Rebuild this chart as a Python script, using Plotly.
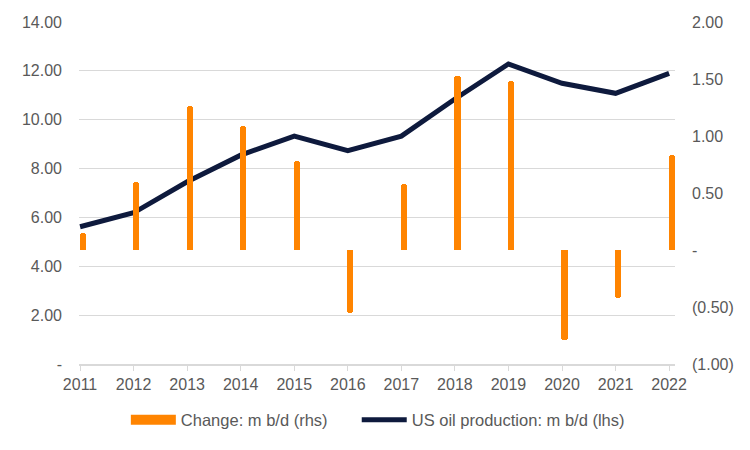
import plotly.graph_objects as go

years = [2011, 2012, 2013, 2014, 2015, 2016, 2017, 2018, 2019, 2020, 2021, 2022]
production = [5.62, 6.19, 7.46, 8.55, 9.33, 8.73, 9.33, 10.85, 12.28, 11.49, 11.08, 11.90]
change = [0.15, 0.60, 1.26, 1.09, 0.78, -0.55, 0.58, 1.53, 1.48, -0.79, -0.42, 0.83]

left_vals = [0, 2, 4, 6, 8, 10, 12, 14]
left_text = ["-", "2.00", "4.00", "6.00", "8.00", "10.00", "12.00", "14.00"]
right_vals = [-1.0, -0.5, 0.0, 0.5, 1.0, 1.5, 2.0]
right_text = ["(1.00)", "(0.50)", "-", "0.50", "1.00", "1.50", "2.00"]

ORANGE = "#FF8400"
NAVY = "#0E1A3D"
GREY = "#595959"
GRID = "#D9D9D9"

fig = go.Figure()
fig.add_trace(go.Bar(
    x=years, y=change, yaxis="y2", name="Change: m b/d (rhs)",
    marker=dict(color=ORANGE, line=dict(width=0), cornerradius=3),
    width=0.115, offset=-0.01, showlegend=False,
))
fig.add_trace(go.Scatter(
    x=[None], y=[None], yaxis="y2", mode="lines", name="Change: m b/d (rhs)",
    line=dict(color=ORANGE, width=14), showlegend=True, hoverinfo="skip",
    legend="legend",
))
fig.add_trace(go.Scatter(
    x=years, y=production, mode="lines", name="US oil production: m b/d (lhs)",
    line=dict(color=NAVY, width=5), cliponaxis=False, legend="legend2",
))

legend_common = dict(
    orientation="h", xanchor="left", y=-0.1125, yanchor="top",
    font=dict(size=16.5, color=GREY), itemwidth=45, bgcolor="rgba(0,0,0,0)",
)

fig.update_layout(
    width=750, height=450,
    margin=dict(l=71, r=83, t=14, b=94),
    paper_bgcolor="white", plot_bgcolor="white",
    font=dict(family="Liberation Sans, Arial, sans-serif", size=16, color=GREY),
    xaxis=dict(
        range=[2010.98, 2022.11], tickvals=years, ticktext=[str(y) for y in years],
        showgrid=False, showline=True, linecolor=GRID, linewidth=1.5,
        ticks="outside", ticklen=5, tickcolor=GRID, zeroline=False,
        tickfont=dict(size=16, color=GREY), automargin=False,
    ),
    yaxis=dict(
        range=[0, 14], tickvals=left_vals, ticktext=left_text,
        showgrid=True, gridcolor=GRID, gridwidth=1, zeroline=False,
        showline=False, ticks="", tickfont=dict(size=16, color=GREY),
        ticklabelstandoff=16, automargin=False,
    ),
    yaxis2=dict(
        range=[-1, 2], tickvals=right_vals, ticktext=right_text,
        overlaying="y", side="right", showgrid=False, zeroline=False,
        showline=False, ticks="", tickfont=dict(size=16, color=GREY),
        ticklabelstandoff=16, automargin=False,
    ),
    legend=dict(x=0.0786, **legend_common),
    legend2=dict(x=0.466, **legend_common),
    bargap=0,
)

fig.write_html("out.html")
